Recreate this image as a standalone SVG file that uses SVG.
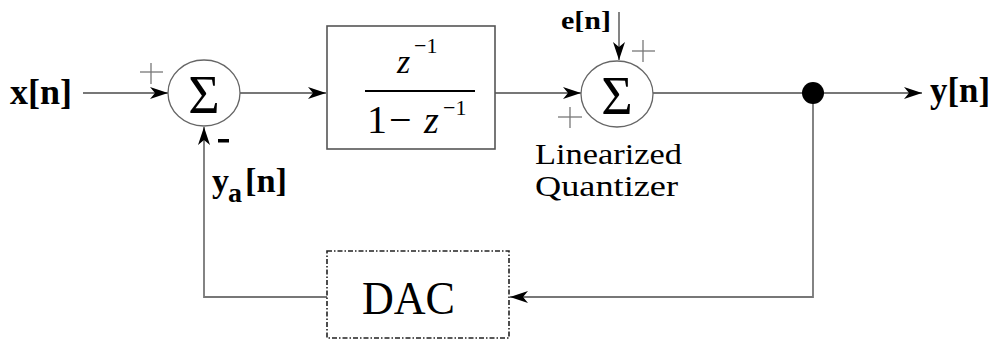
<svg xmlns="http://www.w3.org/2000/svg" width="996" height="342" viewBox="0 0 996 342">
<style>
  .wire{fill:none;stroke:#777;stroke-width:1.8}
  .sum{fill:#fff;stroke:#666;stroke-width:1.3}
  .box{fill:#fff;stroke:#555;stroke-width:1.6}
  .dac{fill:#fff;stroke:#222;stroke-width:1.6;stroke-dasharray:5 2 1.5 2}
  .plus{stroke:#777;stroke-width:1.3}
  text{font-family:"Liberation Serif","Times New Roman","DejaVu Serif",serif;fill:#000}
  .b{font-weight:bold}
  .it{font-style:italic}
</style>
<defs>
  <marker id="arr" markerUnits="userSpaceOnUse" markerWidth="20" markerHeight="14" refX="18" refY="6" orient="auto">
    <path d="M0,0 L18,6 L0,12 L5,6 z" fill="#000"/>
  </marker>
</defs>
<rect width="996" height="342" fill="#fff"/>
<g id="connectors">
  <line class="wire" x1="83" y1="93" x2="168" y2="93" marker-end="url(#arr)"/>
  <line class="wire" x1="240" y1="93" x2="326" y2="93" marker-end="url(#arr)"/>
  <line class="wire" x1="495" y1="93" x2="581" y2="93" marker-end="url(#arr)"/>
  <line class="wire" x1="619" y1="12" x2="619" y2="60" marker-end="url(#arr)"/>
  <line class="wire" x1="653" y1="93" x2="813" y2="93"/>
  <line class="wire" x1="813" y1="93" x2="922" y2="93" marker-end="url(#arr)"/>
  <polyline class="wire" points="813,93 813,297 510,297" marker-end="url(#arr)"/>
  <polyline class="wire" points="327,297 204,297 204,127" marker-end="url(#arr)"/>
</g>
<g id="input">
  <text class="b" x="10" y="104" font-size="35" textLength="62" lengthAdjust="spacingAndGlyphs">x[n]</text>
</g>
<g id="sum1">
  <ellipse class="sum" cx="204" cy="93" rx="36" ry="33"/>
  <text x="204" y="113" font-size="54" text-anchor="middle">Σ</text>
  <line class="plus" x1="140" y1="72" x2="163" y2="72"/>
  <line class="plus" x1="151" y1="63" x2="151" y2="84"/>
  <rect x="218" y="139" width="11" height="3.5" fill="#000"/>
  <text class="b" x="212" y="192" font-size="34">y</text>
  <text class="b" x="228" y="202" font-size="28">a</text>
  <text class="b" x="245" y="192" font-size="34" textLength="42" lengthAdjust="spacingAndGlyphs">[n]</text>
</g>
<g id="integrator">
  <rect class="box" x="327" y="26" width="168" height="123"/>
  <text class="it" x="397" y="73" font-size="34">z</text>
  <text x="414" y="53" font-size="22">−1</text>
  <line x1="365" y1="91" x2="475" y2="91" stroke="#000" stroke-width="2"/>
  <text x="367" y="133" font-size="40">1</text>
  <text x="389" y="133" font-size="40">−</text>
  <text class="it" x="424" y="133" font-size="38">z</text>
  <text x="443" y="115" font-size="22">−1</text>
</g>
<g id="quantizer">
  <ellipse class="sum" cx="617" cy="94" rx="36" ry="33"/>
  <text x="617" y="114" font-size="54" text-anchor="middle">Σ</text>
  <text class="b" x="561" y="29" font-size="26" textLength="50" lengthAdjust="spacingAndGlyphs">e[n]</text>
  <line class="plus" x1="632" y1="51" x2="655" y2="51"/>
  <line class="plus" x1="643" y1="40" x2="643" y2="62"/>
  <line class="plus" x1="558" y1="117" x2="582" y2="117"/>
  <line class="plus" x1="570" y1="107" x2="570" y2="128"/>
  <text x="535" y="164" font-size="29" textLength="147" lengthAdjust="spacingAndGlyphs">Linearized</text>
  <text x="535" y="196" font-size="29" textLength="143" lengthAdjust="spacingAndGlyphs">Quantizer</text>
</g>
<g id="branch">
  <circle cx="813" cy="93" r="11" fill="#000"/>
</g>
<g id="output">
  <text class="b" x="930" y="102" font-size="35" textLength="60" lengthAdjust="spacingAndGlyphs">y[n]</text>
</g>
<g id="dac">
  <rect class="dac" x="327" y="251" width="182" height="87"/>
  <text x="362" y="314" font-size="46" textLength="93" lengthAdjust="spacingAndGlyphs">DAC</text>
</g>
</svg>
